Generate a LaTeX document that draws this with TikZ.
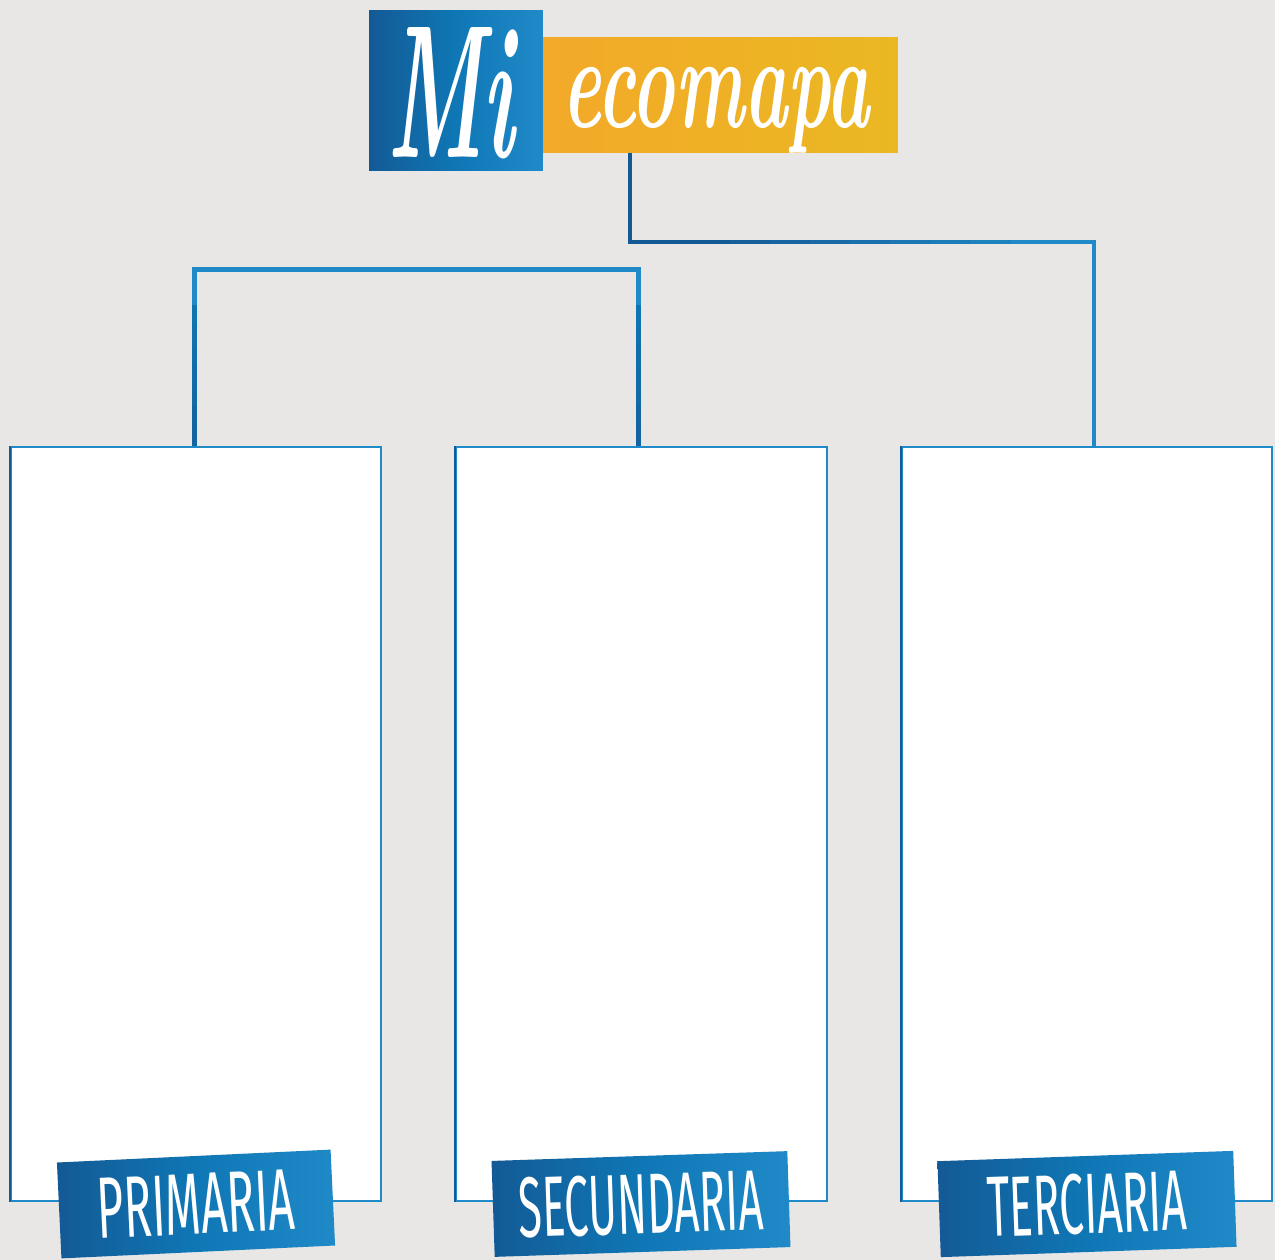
\documentclass[tikz,border=0pt]{standalone}
\usepackage{fontspec}
\newfontfamily\labfont{Fira Sans}
\usepackage{graphicx}
\definecolor{bg}{RGB}{232,231,229}
\definecolor{bdark}{RGB}{19,90,149}
\definecolor{bmid}{RGB}{15,119,181}
\definecolor{blight}{RGB}{32,137,199}
\definecolor{yorange}{RGB}{243,169,41}
\definecolor{yyellow}{RGB}{234,184,35}
\begin{document}
\begin{tikzpicture}[x=0.02cm,y=-0.02cm,
  panel/.style={draw=blight, line width=0.04cm, fill=white, minimum width=7.4cm, minimum height=15.08cm, inner sep=0},
  tag/.style={inner sep=0, minimum height=1.92cm, text=white, font=\labfont, left color=bdark, right color=blight, middle color=bmid},
  titletext/.style={inner sep=0, text=white, font=\bfseries\itshape},
  link/.style={line width=0.09cm, line join=miter, line cap=butt},
  ]
\fill[bg] (0,0) rectangle (1275,1260);
\useasboundingbox (0,0) rectangle (1275,1260);

% panels
\node[panel] (b1) at (196,824) {};
\node[panel, minimum width=7.42cm] (b2) at (641.5,824) {};
\node[panel] (b3) at (1087,824) {};
\foreach \b in {b1,b2,b3}{
  \draw[bdark, line width=0.04cm] (\b.north west) -- (\b.south west);
}

% title
\node[inner sep=0, minimum width=3.48cm, minimum height=3.22cm, left color=bdark, right color=blight, middle color=bmid] (mi) at (456,90.5) {};
\node[inner sep=0, minimum width=7.1cm, minimum height=2.32cm, left color=yorange, right color=yyellow] (eco) at (720.5,95) {};
\node[titletext] (mitext) at (451,93) {\resizebox{2.55cm}{2.6cm}{Mi}};
\node[titletext] (ecotext) at (716,110) {\resizebox*{6.14cm}{1.72cm}{ecomapa}};

% connectors
\coordinate (j1) at (630,242);
\coordinate (j2) at (1094,242);
\draw[link, blight] (eco.south -| j1) -- (j1) -- (j2) -- (j2 |- b3.north);
\draw[link, bdark] (eco.south -| j1) -- (j1) -- ++(60,0);
\foreach \i [evaluate=\i as \p using {100-\i*12}] in {0,...,7}{
  \draw[line width=0.09cm, bdark!\p!blight] ([xshift={(60+\i*40)*0.02cm}]j1) -- ++(41,0);
}

\coordinate (k1) at (194,269.5);
\coordinate (k2) at (638.5,269.5);
\draw[link, line width=0.1cm, blight] (b1.north -| k1) -- (k1) -- (k2) -- (k2 |- b2.north);
\foreach \i [evaluate=\i as \p using {70-\i*10}] in {0,...,6}{
  \draw[line width=0.1cm, bdark!\p!bmid] ([yshift={\i*0.4cm}]b1.north -| k1) -- ++(0,-21);
  \draw[line width=0.1cm, bdark!\p!bmid] ([yshift={\i*0.4cm}]k2 |- b2.north) -- ++(0,-21);
}

% labels
\node[tag, minimum width=5.48cm, rotate=2.7] (l1) at (196,1204) {\resizebox{3.96cm}{1.2cm}{PRIMARIA}};
\node[tag, minimum width=5.92cm, rotate=1.9] (l2) at (641,1204) {\resizebox{4.9cm}{1.2cm}{SECUNDARIA}};
\node[tag, minimum width=5.92cm, rotate=2.0] (l3) at (1087,1204) {\resizebox{4.0cm}{1.2cm}{TERCIARIA}};
\end{tikzpicture}
\end{document}
